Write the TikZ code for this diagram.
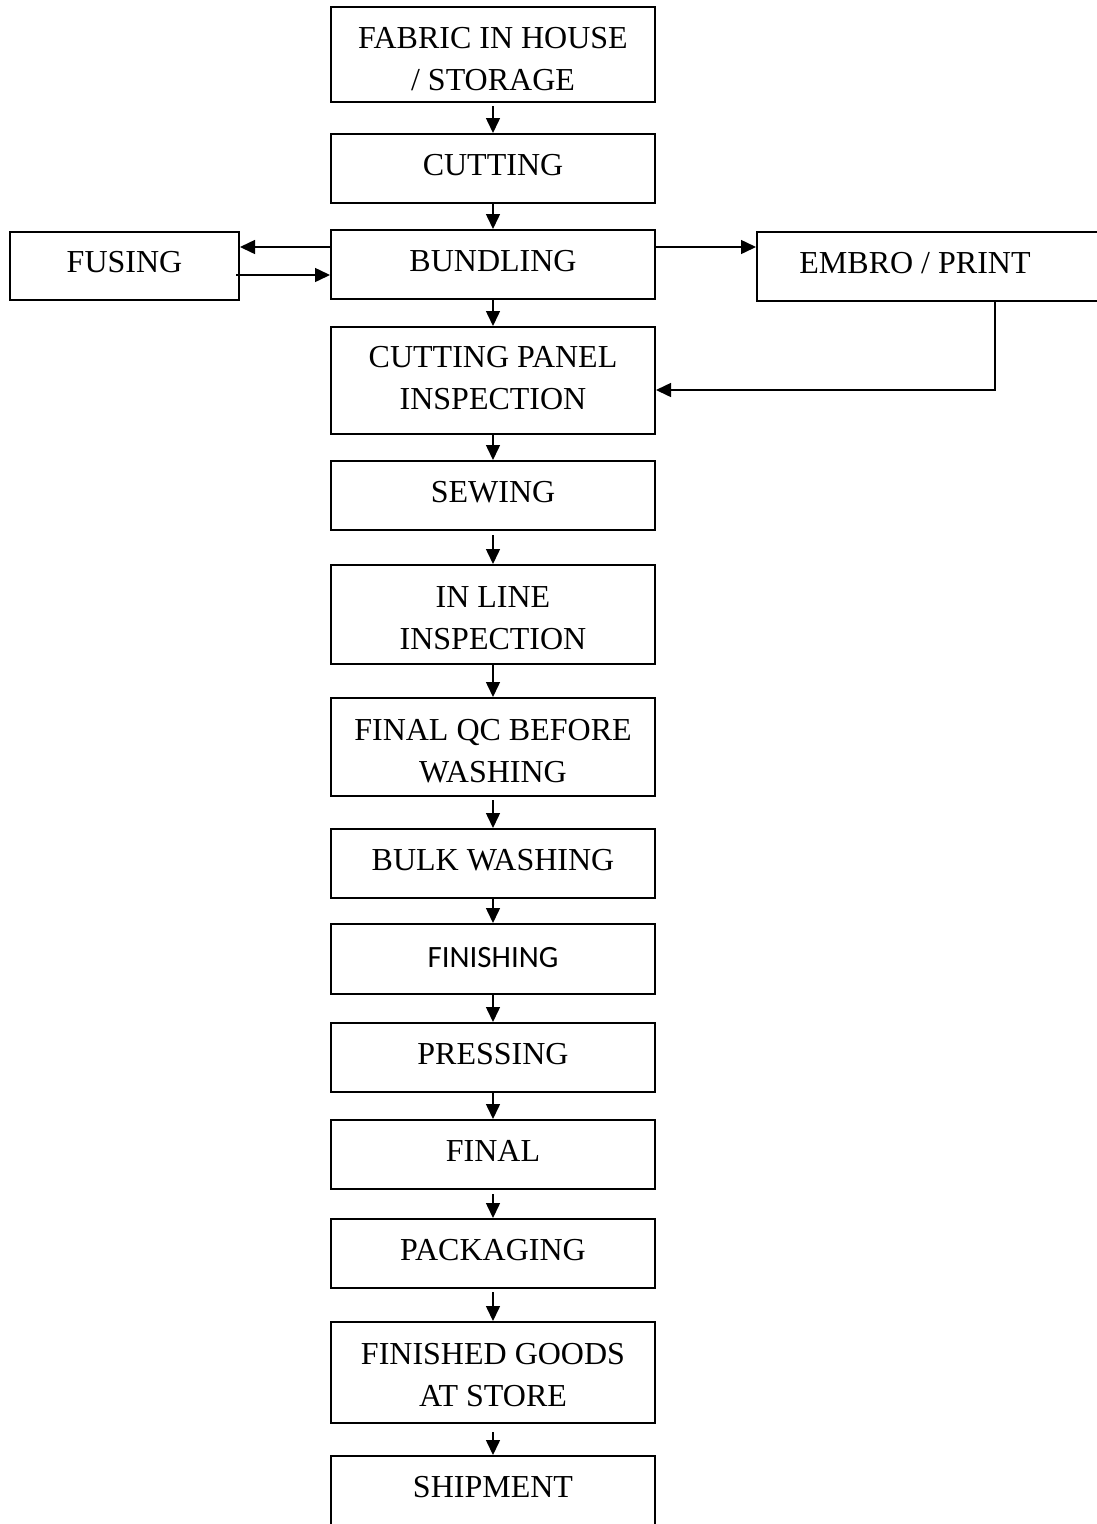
\documentclass[tikz,border=0pt]{standalone}
\usepackage{fontspec}
\setmainfont{Liberation Serif}
\newfontfamily\calibri{Carlito}
\usetikzlibrary{arrows.meta}
% invisible strut that lowers a two-line label a little
\newcommand{\lift}[1]{\rule{0pt}{#1}}
\begin{document}
\begin{tikzpicture}[x=1pt,y=-1pt,
  stepbox/.style={draw, line width=2pt, minimum width=324pt, minimum height=69pt,
    inner sep=0pt, align=center, font=\fontsize{32}{42}\selectfont},
  oneline/.style={text depth=8pt},
  flow/.style={-{Triangle[length=15pt,width=14pt]}, line width=1.5pt}]
\useasboundingbox (0,0) rectangle (1097,1524);
\fill[white] (0,0) rectangle (1097,1524);
\clip (0,0) rectangle (1097,1524);

% main column of process steps
\node[stepbox, text depth=0pt, minimum height=95pt] (fab) at (493,54.5) {\lift{30pt}FABRIC IN HOUSE\\/ STORAGE};
\node[stepbox, oneline] (cut) at (493,168.5) {CUTTING};
\node[stepbox, oneline] (bund) at (493,264.5) {BUNDLING};
\node[stepbox, text depth=6pt, minimum height=107pt] (cpi) at (493,380.5) {CUTTING PANEL\\INSPECTION};
\node[stepbox, oneline] (sew) at (493,495.5) {SEWING};
\node[stepbox, text depth=0pt, minimum height=99pt] (inl) at (493,614.5) {\lift{28pt}IN LINE\\INSPECTION};
\node[stepbox, text depth=0pt, minimum height=98pt] (fqc) at (493,747) {\lift{28pt}FINAL QC BEFORE\\WASHING};
\node[stepbox, oneline] (bulk) at (493,863.5) {BULK WASHING};
\node[stepbox, text depth=4pt, minimum height=70pt, font=\calibri\fontsize{31}{40}\selectfont] (fin) at (493,959) {FINISHING};
\node[stepbox, oneline] (press) at (493,1057.5) {PRESSING};
\node[stepbox, oneline] (final) at (493,1154.5) {FINAL};
\node[stepbox, oneline] (pack) at (493,1253.5) {PACKAGING};
\node[stepbox, text depth=0pt, minimum height=101pt] (fgs) at (493,1372.5) {\lift{26pt}FINISHED GOODS\\AT STORE};
\node[stepbox, oneline, minimum height=70pt] (ship) at (493,1491) {SHIPMENT};

% side steps
\node[stepbox, oneline, minimum width=229pt, minimum height=68pt] (fus) at (124.5,266) {FUSING};
\node[stepbox, oneline, minimum width=353pt] (emb) at (933.5,266.5) {EMBRO / PRINT\hspace*{37pt}};

% main flow
\draw[flow, shorten <=3pt] (fab) -- (cut);
\draw[flow] (cut) -- (bund);
\draw[flow] (bund) -- (cpi);
\draw[flow] (cpi) -- (sew);
\draw[flow, shorten <=4pt] (sew) -- (inl);
\draw[flow] (inl) -- (fqc);
\draw[flow, shorten <=3pt] (fqc) -- (bulk);
\draw[flow] (bulk) -- (fin);
\draw[flow] (fin) -- (press);
\draw[flow] (press) -- (final);
\draw[flow, shorten <=4pt] (final) -- (pack);
\draw[flow, shorten <=3pt] (pack) -- (fgs);
\draw[flow, shorten <=8pt] (fgs) -- (ship);

% fusing loop and embroidery / print branch
\draw[flow] ([yshift=17.5pt]bund.west) -- ([yshift=19pt]fus.east);
\draw[flow] ([xshift=-4pt,yshift=-9pt]fus.east) -- ([yshift=-10.5pt]bund.west);
\draw[flow] ([yshift=17.5pt]bund.east) -- ([yshift=19.5pt]emb.west);
\draw[flow] ([xshift=61.5pt]emb.south) |- ([yshift=-9.5pt]cpi.east);
\end{tikzpicture}
\end{document}
